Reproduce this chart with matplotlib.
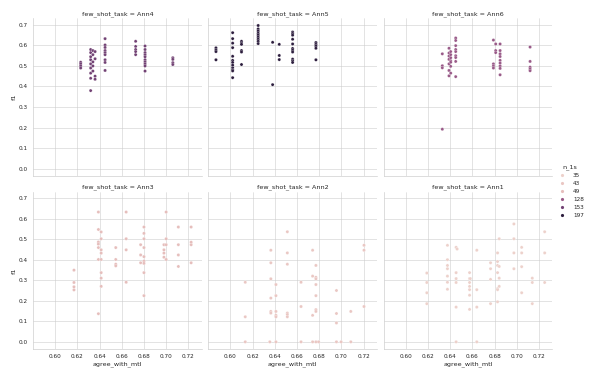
import numpy as np
import pandas as pd
import seaborn as sns
import matplotlib
matplotlib.use("Agg")
import matplotlib.pyplot as plt

# panel order as in the grid (row-wise)
tasks = ["Ann4", "Ann5", "Ann6", "Ann3", "Ann2", "Ann1"]
n_1s = {"Ann1": 35, "Ann2": 43, "Ann3": 49, "Ann6": 128, "Ann4": 153, "Ann5": 197}

# each entry: (agree_with_mtl, [f1 values at that agreement])
ann4 = [
    (0.623, [0.518, 0.51, 0.50, 0.49]),
    (0.632, [0.58, 0.565, 0.545, 0.53, 0.51, 0.49, 0.465, 0.44, 0.38]),
    (0.634, [0.575, 0.555, 0.52, 0.50, 0.475]),
    (0.636, [0.57, 0.535, 0.45, 0.435]),
    (0.645, [0.633, 0.602, 0.59, 0.575, 0.565, 0.555, 0.53, 0.517, 0.478]),
    (0.6725, [0.62, 0.595, 0.58, 0.57, 0.555]),
    (0.681, [0.597, 0.58, 0.565, 0.555, 0.545, 0.53, 0.52, 0.51, 0.50, 0.475]),
    (0.706, [0.54, 0.532, 0.516, 0.507]),
]
ann5 = [
    (0.587, [0.588, 0.578, 0.57, 0.53]),
    (0.602, [0.662, 0.633, 0.611, 0.589, 0.547, 0.527, 0.517, 0.504, 0.491, 0.482, 0.476, 0.443]),
    (0.610, [0.62, 0.611, 0.605, 0.575, 0.568, 0.507]),
    (0.625, [0.697, 0.68, 0.67, 0.659, 0.65, 0.64, 0.63, 0.62, 0.609]),
    (0.638, [0.615, 0.409]),
    (0.644, [0.605, 0.551, 0.531]),
    (0.656, [0.665, 0.658, 0.65, 0.63, 0.607, 0.585, 0.577, 0.568, 0.533, 0.525, 0.517]),
    (0.677, [0.614, 0.605, 0.597, 0.586, 0.53]),
]
ann6 = [
    (0.633, [0.559, 0.501, 0.491, 0.192]),
    (0.639, [0.586, 0.563, 0.548, 0.532, 0.51, 0.478, 0.452]),
    (0.6405, [0.57, 0.555, 0.54, 0.525, 0.518, 0.498, 0.465]),
    (0.645, [0.636, 0.624, 0.599, 0.58, 0.57, 0.55, 0.541, 0.522, 0.448]),
    (0.679, [0.626, 0.51, 0.50, 0.49]),
    (0.681, [0.607, 0.575, 0.565]),
    (0.685, [0.607, 0.575, 0.559, 0.546, 0.527, 0.514, 0.50, 0.488, 0.457]),
    (0.712, [0.592, 0.522, 0.494, 0.485, 0.477]),
]
ann3 = [
    (0.617, [0.349, 0.289, 0.268, 0.253]),
    (0.639, [0.632, 0.547, 0.486, 0.476, 0.459, 0.401, 0.137]),
    (0.6415, [0.535, 0.502, 0.448, 0.432, 0.401, 0.337, 0.31, 0.27]),
    (0.6546, [0.459, 0.401, 0.378, 0.37]),
    (0.664, [0.632, 0.502, 0.448, 0.29]),
    (0.677, [0.473, 0.423, 0.385]),
    (0.680, [0.559, 0.528, 0.502, 0.459, 0.415, 0.393, 0.382, 0.337, 0.225]),
    (0.698, [0.473, 0.448, 0.432, 0.412]),
    (0.700, [0.632, 0.502, 0.473, 0.401]),
    (0.711, [0.559, 0.473, 0.423, 0.367]),
    (0.7225, [0.559, 0.485, 0.473, 0.385]),
]
ann2 = [
    (0.6134, [0.29, 0.122, 0.0]),
    (0.6355, [0.0]),
    (0.6364, [0.446, 0.385, 0.307, 0.213, 0.148, 0.14]),
    (0.641, [0.279, 0.225, 0.148, 0.129, 0.122, 0.0]),
    (0.6513, [0.536, 0.433, 0.378, 0.14, 0.133, 0.122]),
    (0.6636, [0.29, 0.172, 0.0]),
    (0.674, [0.446, 0.32, 0.129, 0.0]),
    (0.677, [0.372, 0.314, 0.307, 0.279, 0.225, 0.157, 0.148, 0.0]),
    (0.6794, [0.0]),
    (0.6955, [0.25, 0.138, 0.092, 0.0]),
    (0.6997, [0.0]),
    (0.7084, [0.148, 0.0]),
    (0.7203, [0.47, 0.446, 0.172]),
]
ann1 = [
    (0.619, [0.335, 0.289, 0.239, 0.186]),
    (0.6376, [0.47, 0.40, 0.372, 0.356, 0.32, 0.29, 0.256]),
    (0.6454, [0.46, 0.337, 0.308, 0.289, 0.169, 0.0]),
    (0.6463, [0.452]),
    (0.6575, [0.337, 0.308, 0.289, 0.27, 0.254, 0.227, 0.158]),
    (0.6582, [0.308]),
    (0.664, [0.446, 0.254, 0.169, 0.0]),
    (0.6764, [0.385, 0.356, 0.304, 0.186]),
    (0.6827, [0.433, 0.391, 0.372, 0.337, 0.259, 0.254, 0.195]),
    (0.6842, [0.502, 0.367, 0.31, 0.27]),
    (0.6974, [0.574, 0.502, 0.433, 0.356]),
    (0.7044, [0.46, 0.433, 0.366, 0.239]),
    (0.714, [0.31, 0.289, 0.186]),
    (0.7251, [0.536, 0.433, 0.289]),
]

task_data = {"Ann4": ann4, "Ann5": ann5, "Ann6": ann6,
             "Ann3": ann3, "Ann2": ann2, "Ann1": ann1}

rows = []
for t in tasks:
    for agree, f1s in task_data[t]:
        for f in f1s:
            rows.append({"few_shot_task": t, "agree_with_mtl": agree,
                         "f1": f, "n_1s": n_1s[t]})
df = pd.DataFrame(rows)

sns.set_theme(style="whitegrid")
g = sns.relplot(data=df, x="agree_with_mtl", y="f1", hue="n_1s",
                col="few_shot_task", col_wrap=3, col_order=tasks,
                height=5, aspect=1, legend="full")
g.set(xticks=[0.60, 0.62, 0.64, 0.66, 0.68, 0.70, 0.72])

g.figure.set_size_inches(589 / 38.0, 382 / 38.0)
g.figure.subplots_adjust(left=0.056, right=0.9377, top=0.952, bottom=0.0864,
                         wspace=0.039, hspace=0.10)
plt.savefig("out.png", dpi=38)
